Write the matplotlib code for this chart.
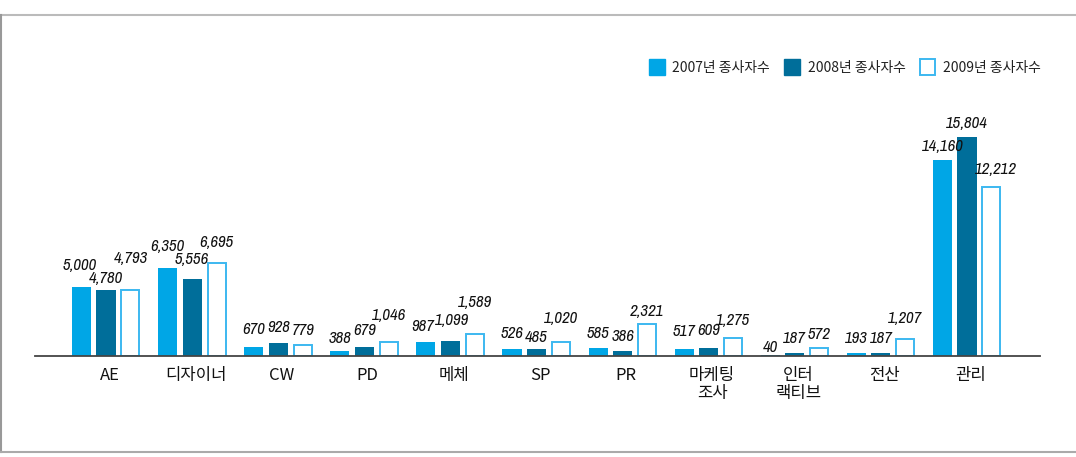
import matplotlib
matplotlib.use("Agg")
import matplotlib.pyplot as plt
from matplotlib.patches import Patch
from matplotlib.lines import Line2D
from matplotlib import font_manager as fm
import numpy as np

categories = ["AE", "디자이너", "CW", "PD", "메체", "SP", "PR", "마케팅\n조사", "인터\n랙티브", "전산", "관리"]
series_names = ["2007년 종사자수", "2008년 종사자수", "2009년 종사자수"]
v2007 = [5000, 6350, 670, 388, 987, 526, 585, 517, 40, 193, 14160]
v2008 = [4780, 5556, 928, 679, 1099, 485, 386, 609, 187, 187, 15804]
v2009 = [4793, 6695, 779, 1046, 1589, 1020, 2321, 1275, 572, 1207, 12212]

# label placement (pixels above bar top / sideways shift), layout only
label_off = [
    [21.5, 22, 17, 12, 16, 15, 14, 17, 8, 15, 14],
    [11, 19.5, 16, 16, 20, 12, 14, 17, 15, 15, 13.5],
    [31, 20.5, 15, 26, 32, 23, 12.5, 18, 13.5, 21, 18],
]
label_dx = [
    [-2, 0, 0, 0, -3, 0, 0, 0, 0, 0, 0],
    [0, 0, 0, 0, 2, 0, 0, 0, 0, 0, 0],
    [0, 0, 0, 0, 0, 0, 0, 0, 0, 0, 4],
]

KR = ["Noto Sans CJK KR", "DejaVu Sans"]

# look for a condensed / narrow sans face (not mono, not serif) for the numbers
cands = []
for f in fm.fontManager.ttflist:
    nm = f.name.lower()
    fn = f.fname.lower().split("/")[-1]
    if "mono" in nm or "mono" in fn or "serif" in nm or "serif" in fn or "cjk" in nm or "math" in nm:
        continue
    if "display" in fn or "ui" in nm.split():
        continue
    st = str(f.stretch).lower()
    cond = ("narrow" in nm or "condensed" in nm or "narrow" in fn or "condensed" in fn
            or st in ("condensed", "semi-condensed", "extra-condensed", "ultra-condensed"))
    if not cond:
        continue
    score = 0
    if f.style in ("italic", "oblique"):
        score += 10
    if f.weight in (400, "normal", "regular"):
        score += 3
    for bad in ("semi", "extra", "ultra", "light", "bold", "black", "medium", "thin"):
        if bad in fn:
            score -= 4
    if "narrow" in fn or "narrow" in nm:
        score += 2
    cands.append((score, f.fname))
if cands:
    cands.sort(reverse=True)
    num_prop = fm.FontProperties(fname=cands[0][1], size=12)
else:
    num_prop = fm.FontProperties(family=["Liberation Sans", "DejaVu Sans"], style="italic", size=10.5)

W, H = 1076, 457
fig = plt.figure(figsize=(W / 100, H / 100), dpi=100)
fig.patch.set_facecolor("white")

ax_left, ax_right = 35, 1040
ax_bottom, ax_top = 356, 30
ax = fig.add_axes([ax_left / W, (H - ax_bottom) / H, (ax_right - ax_left) / W, (ax_bottom - ax_top) / H])

x = np.arange(len(categories))
bw = 0.221
step = 0.2845
c07 = "#00a6e6"
c08 = "#006e9a"
c09e = "#3cb8f0"

vals = [v2007, v2008, v2009]
styles = [
    dict(color=c07),
    dict(color=c08),
    dict(facecolor="white", edgecolor=c09e, linewidth=1.4),
]
for k, (v, st) in enumerate(zip(vals, styles)):
    xs = x + (k - 1) * step
    ax.bar(xs, v, width=bw if k < 2 else bw - 0.012, zorder=2, **st)
    for i, (xi, vi) in enumerate(zip(xs, v)):
        ax.annotate(f"{vi:,}", xy=(xi, vi), xytext=(label_dx[k][i], label_off[k][i]),
                    textcoords="offset pixels", ha="center", va="center",
                    fontproperties=num_prop, color="#111111")

px_per_x = 86.1
ax.set_xlim((ax_left - 106) / px_per_x, (ax_right - 106) / px_per_x)
ax.set_ylim(0, 15804 * (ax_bottom - ax_top) / 218.5)

for s in ["top", "right", "left"]:
    ax.spines[s].set_visible(False)
ax.spines["bottom"].set_color("#444444")
ax.spines["bottom"].set_linewidth(1.3)
ax.spines["bottom"].set_zorder(3)
ax.set_yticks([])
ax.set_xticks(x + 0.04)
ax.set_xticklabels(categories, family=KR, fontsize=12, linespacing=1.1, color="#111111")
ax.tick_params(axis="x", length=0, pad=8)

handles = [
    Patch(facecolor=c07, edgecolor=c07),
    Patch(facecolor=c08, edgecolor=c08),
    Patch(facecolor="white", edgecolor=c09e, linewidth=1.4),
]
leg = fig.legend(handles, series_names, loc="upper right",
                 bbox_to_anchor=(1041 / W, 1 - 59 / H), ncol=3, frameon=False,
                 prop={"family": KR, "size": 10}, handlelength=1.15, handleheight=1.4,
                 handletextpad=0.55, columnspacing=1.0, borderpad=0, borderaxespad=0)
for t in leg.get_texts():
    t.set_color("#222222")

# outer frame
fig.add_artist(Line2D([0, 1], [1 - 15 / H, 1 - 15 / H], transform=fig.transFigure, color="#bbbbbb", linewidth=1.5))
fig.add_artist(Line2D([0.6 / W, 0.6 / W], [1 - 15 / H, 1 - 452 / H], transform=fig.transFigure, color="#999999", linewidth=1.5))
fig.add_artist(Line2D([0, 1], [1 - 452 / H, 1 - 452 / H], transform=fig.transFigure, color="#aaaaaa", linewidth=1.5))

fig.savefig("out.png", dpi=100)
